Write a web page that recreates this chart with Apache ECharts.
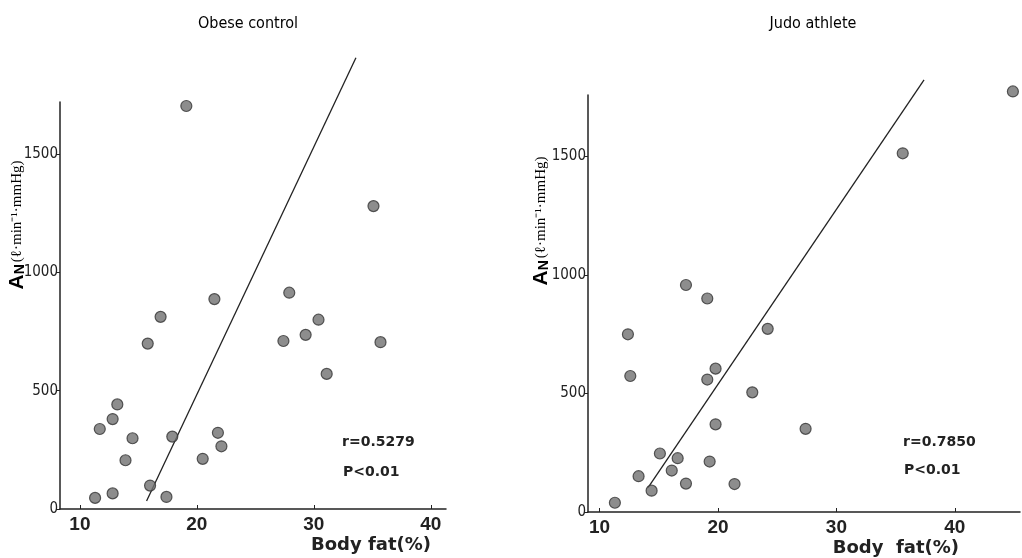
<!DOCTYPE html>
<html>
<head>
<meta charset="utf-8">
<script src="https://cdn.jsdelivr.net/npm/echarts@6/dist/echarts.min.js"></script>
<style>
  html, body { margin: 0; padding: 0; background: #fff; }
  #chart { width: 1022px; height: 558px; }
</style>
</head>
<body>
<div id="chart"></div>
<script>
// Obese control
const obeseFat = [19.1, 35.1, 27.9, 21.5, 16.9, 30.4, 29.3, 27.4, 35.7, 15.8, 31.1, 13.2,
  12.8, 11.7, 21.8, 14.5, 17.9, 22.1, 13.9, 20.5, 16.0, 11.3, 12.8, 17.4];
const obeseAN = [1703, 1280, 914, 887, 812, 800, 736, 710, 705, 699, 571, 442,
  380, 338, 322, 299, 306, 265, 206, 212, 99, 47, 66, 51];
const obeseFitFat = [15.7, 33.6];
const obeseFitAN = [34, 1907];

// Judo athlete
const judoFat = [44.9, 35.6, 17.3, 19.1, 12.4, 24.2, 12.6, 19.8, 19.1, 22.9, 19.8,
  27.4, 15.1, 16.6, 19.3, 16.1, 13.3, 17.3, 21.4, 14.4, 11.3];
const judoAN = [1775, 1514, 958, 901, 750, 773, 574, 605, 559, 505, 370,
  351, 247, 227, 213, 175, 151, 120, 118, 90, 39];
const judoFitFat = [14.1, 37.4];
const judoFitAN = [103, 1824];

const xTicks = [10, 20, 30, 40];
const yTicks = [0, 500, 1000, 1500];
const titles = ['Obese control', 'Judo athlete'];
const stats = [['r=0.5279', 'P<0.01'], ['r=0.7850', 'P<0.01']];

const zip = (a, b) => a.map((v, i) => [v, b[i]]);

const chart = echarts.init(document.getElementById('chart'));

const narrow = "'DejaVu Sans Condensed', 'Liberation Sans', sans-serif";
const axisLine = { show: true, lineStyle: { color: '#222', width: 1.5 } };

function xAxis(idx, min, max) {
  return {
    type: 'value', gridIndex: idx, min: min, max: max,
    axisLine: axisLine,
    axisTick: { show: true, inside: true, length: 4, customValues: xTicks, lineStyle: { color: '#222' } },
    axisLabel: { customValues: xTicks, color: '#222', fontSize: 19, fontWeight: 'bold',
      fontFamily: 'Liberation Sans', margin: 6 },
    splitLine: { show: false }
  };
}
function yAxis(idx, max) {
  return {
    type: 'value', gridIndex: idx, min: 0, max: max,
    axisLine: axisLine,
    axisTick: { show: true, length: 4, customValues: yTicks, lineStyle: { color: '#222' } },
    axisLabel: { customValues: yTicks, formatter: v => String(v), color: '#222', fontSize: 15,
      fontFamily: narrow, margin: 2 },
    splitLine: { show: false }
  };
}

const dotStyle = { color: '#707070', borderColor: '#333', borderWidth: 1.2 };

const nameRich = {
  a: { fontSize: 21, fontFamily: 'Liberation Sans', fontWeight: 'bold', color: '#222' },
  n: { fontSize: 14, fontFamily: 'Liberation Sans', fontWeight: 'bold', color: '#222', padding: [6, 2, 0, 0] },
  b: { fontSize: 15, fontFamily: 'Liberation Serif', color: '#222' }
};
function yName(x, y) {
  return {
    type: 'text', x: x, y: y, rotation: Math.PI / 2,
    style: { text: '{a|A}{n|N}{b|(ℓ·min⁻¹·mmHg)}', rich: nameRich, align: 'center', verticalAlign: 'middle' }
  };
}
function txt(x, y, s, size, align) {
  return {
    type: 'text', x: x, y: y,
    style: { text: s, fontSize: size, fontFamily: 'DejaVu Sans', fontWeight: 'bold', fill: '#222',
      align: align || 'left', verticalAlign: 'middle' }
  };
}

const titleStyle = { fontSize: 16, fontWeight: 'normal', fontFamily: narrow, color: '#000' };

const option = {
  backgroundColor: '#fff',
  animation: false,
  title: [
    { text: titles[0], left: 243, top: 11, textAlign: 'center', textStyle: titleStyle },
    { text: titles[1], left: 808, top: 11, textAlign: 'center', textStyle: titleStyle }
  ],
  grid: [
    { left: 60, right: 576, top: 102, bottom: 49 },
    { left: 588, right: 2, top: 95, bottom: 46 }
  ],
  xAxis: [xAxis(0, 8.3, 41.3), xAxis(1, 9.03, 45.5)],
  yAxis: [yAxis(0, 1720), yAxis(1, 1760)],
  series: [
    { type: 'scatter', xAxisIndex: 0, yAxisIndex: 0, data: zip(obeseFat, obeseAN),
      symbolSize: 11, itemStyle: dotStyle, clip: false, z: 3 },
    { type: 'line', xAxisIndex: 0, yAxisIndex: 0, data: zip(obeseFitFat, obeseFitAN),
      showSymbol: false, symbol: 'none', clip: false, lineStyle: { color: '#222', width: 1.3 }, z: 2 },
    { type: 'scatter', xAxisIndex: 1, yAxisIndex: 1, data: zip(judoFat, judoAN),
      symbolSize: 11, itemStyle: dotStyle, clip: false, z: 3 },
    { type: 'line', xAxisIndex: 1, yAxisIndex: 1, data: zip(judoFitFat, judoFitAN),
      showSymbol: false, symbol: 'none', clip: false, lineStyle: { color: '#222', width: 1.3 }, z: 2 }
  ],
  graphic: [
    yName(17, 225),
    yName(541, 221),
    txt(342, 442, stats[0][0], 14),
    txt(343, 472, stats[0][1], 14),
    txt(903, 442, stats[1][0], 14),
    txt(904, 470, stats[1][1], 14),
    txt(431, 545, 'Body fat(%)', 18, 'right'),
    txt(959, 548, 'Body  fat(%)', 18, 'right')
  ]
};

chart.setOption(option);
</script>
</body>
</html>
